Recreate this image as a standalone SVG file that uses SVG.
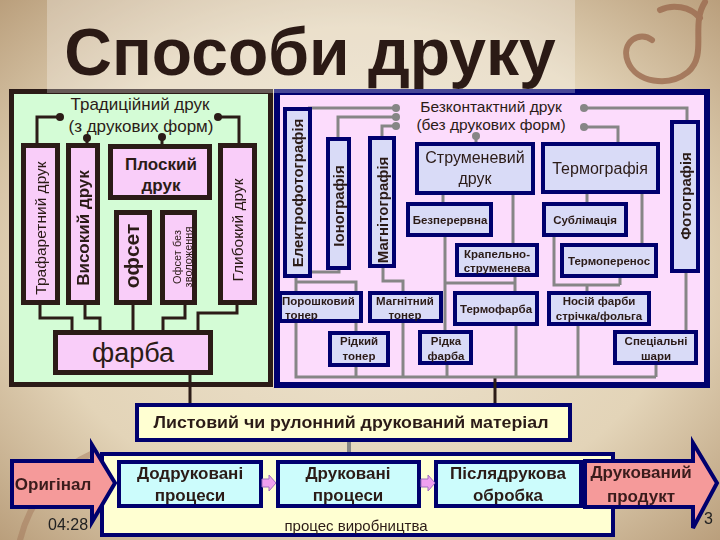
<svg xmlns="http://www.w3.org/2000/svg" width="720" height="540" viewBox="0 0 720 540">
<defs>
<radialGradient id="paper" cx="50%" cy="50%" r="75%">
<stop offset="0" stop-color="#eee4d0"/>
<stop offset="0.6" stop-color="#e3d4b8"/>
<stop offset="1" stop-color="#b39672"/>
</radialGradient>
<style>
text{font-family:"Liberation Sans",Arial,sans-serif;fill:#2b1b17}
.dk{stroke:#2b1b17;stroke-width:3;fill:none}
.gr{stroke:#868686;stroke-width:3;fill:none}
.dotd{fill:#2b1b17}
.dotg{fill:#868686}
.lbox{fill:#f9cdf9;stroke:#2b1b17;stroke-width:5}
.rbox{fill:#d9dbf7;stroke:#00006e;stroke-width:4}
.bbox{fill:#ccfcfc;stroke:#00006e;stroke-width:4}
.big{fill:#f59a9a;stroke:#00006e;stroke-width:4}
.sm{fill:#f0a0f0;stroke:#a070c0;stroke-width:1}
.s11{font-size:11.5px;font-weight:bold;text-anchor:middle}
.b17{font-size:17px;font-weight:bold;text-anchor:middle}
.sw{fill:none;stroke:#9b6b4f;stroke-width:6;stroke-linecap:round}
</style>
</defs>
<rect width="720" height="540" fill="url(#paper)"/>
<g id="decor" opacity="0.8">
<path class="sw" d="M705,2 C690,25 708,55 688,72 C668,88 636,82 628,62 C620,42 640,30 652,40"/>
<path class="sw" d="M660,10 C672,4 690,6 700,18"/>
<path class="sw" opacity="0.5" d="M20,540 C30,500 55,470 95,452"/>
</g>

<g id="left-panel">
<rect x="11.5" y="91.5" width="259" height="293" fill="#d4fcd6" stroke="#2b1b17" stroke-width="5"/>
<text x="140" y="110" font-size="17" text-anchor="middle">Традиційний друк</text>
<text x="141" y="132" font-size="17" text-anchor="middle">(з друкових форм)</text>
</g>
<g id="right-panel">
<rect x="277" y="92" width="430" height="293" fill="#fcdcfc" stroke="#00006e" stroke-width="6"/>
<text x="491" y="112" font-size="15.5" text-anchor="middle">Безконтактний друк</text>
<text x="491" y="130" font-size="15.5" text-anchor="middle">(без друкових форм)</text>
</g>

<g id="connectors">
<path class="dk" d="M60,117 H37 V145 M87,138 V145 M162,137 V146 M218,117 H239 V145"/>
<path class="dk" d="M40,303 V318 H72 V332 M85,303 V318 H100 V332 M133,303 V332 M185,303 V318 H163 V332 M237,303 V313 H198 V332"/>
<path class="dk" d="M190,373 V405 M495,377 V405"/>
<circle class="dotd" cx="60" cy="117" r="4"/>
<circle class="dotd" cx="87" cy="138" r="4"/>
<circle class="dotd" cx="162" cy="137" r="4"/>
<circle class="dotd" cx="218" cy="117" r="4"/>
<path class="gr" d="M396,108 H308 M396,117 H338 V139 M396,126 H382 V138 M476,136 V144 M584,108 H687 V122 M584,127 H618 V144"/>
<path class="gr" d="M443,193 V204 M513,193 V245 M587,192 V204 M642,192 V245"/>
<path class="gr" d="M445,235 V332 M515,275 V293 M445,283 H515 M554,235 V285 H620 M620,276 V285 M587,285 V293"/>
<path class="gr" d="M339,268 V272 H310 M296,276 V293 M296,282 H356 V293 M383,266 V281 H403 V293 M686,271 V332"/>
<path class="gr" d="M296,321 V377 H656 M356,321 V333 M356,365 V377 M403,321 V377 M447,363 V377 M516,324 V377 M578,324 V377 M656,363 V377"/>
<circle class="dotg" cx="396" cy="108" r="4"/>
<circle class="dotg" cx="396" cy="117" r="4"/>
<circle class="dotg" cx="396" cy="126" r="4"/>
<circle class="dotg" cx="476" cy="136" r="4"/>
<circle class="dotg" cx="584" cy="108" r="4"/>
<circle class="dotg" cx="584" cy="127" r="4"/>
<path d="M349,441 V461" stroke="#868686" stroke-width="4" fill="none"/>
</g>

<g id="n-trafaret"><rect class="lbox" x="23.5" y="145.5" width="34" height="157"/>
<text transform="translate(45.5,228) rotate(-90)" font-size="15.5" text-anchor="middle">Трафаретний друк</text></g>
<g id="n-vysokyi"><rect class="lbox" x="68.5" y="145.5" width="29" height="157"/>
<text transform="translate(89,228) rotate(-90)" font-size="17" font-weight="bold" text-anchor="middle">Високий друк</text></g>
<g id="n-ploskyi"><rect class="lbox" x="110.5" y="146.5" width="99" height="51"/>
<text x="161" y="170" class="b17">Плоский</text><text x="161" y="191" class="b17">друк</text></g>
<g id="n-ofset"><rect class="lbox" x="116.5" y="212.5" width="33" height="90"/>
<text transform="translate(139,256) rotate(-90)" font-size="21" font-weight="bold" text-anchor="middle">офсет</text></g>
<g id="n-ofset-bez"><rect class="lbox" x="162.5" y="212.5" width="32" height="90"/>
<text transform="translate(180.5,257) rotate(-90)" font-size="11" text-anchor="middle">Офсет без</text>
<text transform="translate(192,257) rotate(-90)" font-size="11" text-anchor="middle">зволоження</text></g>
<g id="n-hlybokyi"><rect class="lbox" x="220.5" y="145.5" width="34" height="157"/>
<text transform="translate(243,230) rotate(-90)" font-size="15.5" text-anchor="middle">Глибокий друк</text></g>
<g id="n-farba"><rect class="lbox" x="55.5" y="332.5" width="155" height="40"/>
<text x="133" y="362" font-size="27" text-anchor="middle">фарба</text></g>

<g id="n-elektro"><rect class="rbox" x="285" y="109" width="25" height="167"/>
<text transform="translate(303,193) rotate(-90)" font-size="15" font-weight="bold" text-anchor="middle">Електрофотографія</text></g>
<g id="n-iono"><rect class="rbox" x="328" y="139" width="21" height="129"/>
<text transform="translate(344,206) rotate(-90)" font-size="15" font-weight="bold" text-anchor="middle">Іонографія</text></g>
<g id="n-magnito"><rect class="rbox" x="370" y="138" width="24" height="128"/>
<text transform="translate(387.5,210) rotate(-90)" font-size="15" font-weight="bold" text-anchor="middle">Магнітографія</text></g>
<g id="n-strumenevyi"><rect class="rbox" x="417" y="144" width="116" height="49"/>
<text x="475" y="163" font-size="16" text-anchor="middle">Струменевий</text><text x="475" y="184" font-size="16" text-anchor="middle">друк</text></g>
<g id="n-termografia"><rect class="rbox" x="543" y="144" width="115" height="48"/>
<text x="600" y="174" font-size="16" text-anchor="middle">Термографія</text></g>
<g id="n-foto"><rect class="rbox" x="672" y="122" width="26" height="149"/>
<text transform="translate(690.5,196) rotate(-90)" font-size="15" font-weight="bold" text-anchor="middle">Фотографія</text></g>
<g id="n-bezperervna"><rect class="rbox" x="408" y="204" width="83" height="31"/>
<text x="450" y="224" class="s11">Безперервна</text></g>
<g id="n-sublimatsia"><rect class="rbox" x="544" y="204" width="82" height="31"/>
<text x="585" y="224" class="s11">Сублімація</text></g>
<g id="n-krapelno"><rect class="rbox" x="457" y="245" width="80" height="30"/>
<text x="497" y="258" class="s11">Крапельно-</text><text x="497" y="272" class="s11">струменева</text></g>
<g id="n-termoperenos"><rect class="rbox" x="562" y="245" width="94" height="31"/>
<text x="609" y="265" class="s11">Термоперенос</text></g>
<g id="n-poroshkovyi"><rect class="rbox" x="280" y="293" width="81" height="28"/>
<text x="282" y="305" font-size="11.5" font-weight="bold">Порошковий</text><text x="285" y="319" font-size="11.5" font-weight="bold">тонер</text></g>
<g id="n-magnitnyi"><rect class="rbox" x="370" y="293" width="71" height="28"/>
<text x="405" y="305" class="s11">Магнітний</text><text x="405" y="319" class="s11">тонер</text></g>
<g id="n-termofarba"><rect class="rbox" x="455" y="293" width="82" height="31"/>
<text x="496" y="313" class="s11">Термофарба</text></g>
<g id="n-nosii"><rect class="rbox" x="549" y="293" width="100" height="31"/>
<text x="599" y="305" class="s11">Носій фарби</text><text x="599" y="320" class="s11">стрічка/фольга</text></g>
<g id="n-ridkyi"><rect class="rbox" x="330" y="333" width="58" height="32"/>
<text x="359" y="345" class="s11">Рідкий</text><text x="359" y="360" class="s11">тонер</text></g>
<g id="n-ridka"><rect class="rbox" x="420" y="332" width="51" height="31"/>
<text x="446" y="345" class="s11">Рідка</text><text x="446" y="360" class="s11">фарба</text></g>
<g id="n-spetsialni"><rect class="rbox" x="615" y="332" width="81" height="31"/>
<text x="656" y="345" class="s11">Спеціальні</text><text x="656" y="360" class="s11">шари</text></g>

<rect x="47" y="0" width="528" height="93" fill="#ffffff" opacity="0.28"/>
<text x="310" y="75" text-anchor="middle" font-size="66" font-weight="bold" style="fill:#2b1a15">Способи друку</text>

<g id="n-lystovyi"><rect x="137" y="405" width="433" height="35" fill="#ffffd2" stroke="#00006e" stroke-width="4"/>
<text x="351" y="428" font-size="16.5" font-weight="bold" text-anchor="middle" textLength="395" lengthAdjust="spacingAndGlyphs">Листовий чи рулонний друкований матеріал</text></g>

<g id="n-protses"><rect x="102" y="454" width="511" height="81" fill="#ffffd2" stroke="#00006e" stroke-width="4"/>
<text x="356" y="531" font-size="15" text-anchor="middle">процес виробництва</text></g>
<g id="n-oryhinal"><polygon class="big" points="12,461 92,461 92,445 115,483 92,522 92,507 12,507"/>
<text x="53" y="490" class="b17" style="fill:#3a1c1c">Оригінал</text></g>
<g id="n-dodrukovani"><rect class="bbox" x="119" y="462" width="142" height="44"/>
<text x="190" y="479" class="b17">Додруковані</text><text x="190" y="501" class="b17">процеси</text></g>
<g id="n-drukovani"><rect class="bbox" x="278" y="462" width="141" height="44"/>
<text x="348" y="479" class="b17">Друковані</text><text x="348" y="501" class="b17">процеси</text></g>
<g id="n-pisliadrukova"><rect class="bbox" x="436" y="462" width="145" height="44"/>
<text x="508" y="479" class="b17">Післядрукова</text><text x="508" y="501" class="b17">обробка</text></g>
<g id="n-produkt"><polygon class="big" points="585,461 693,461 693,443 717,483 693,528 693,507 585,507"/>
<text x="641" y="478" class="b17" style="fill:#3a1c1c">Друкований</text><text x="641" y="502" class="b17" style="fill:#3a1c1c">продукт</text></g>
<g id="flow-arrows">
<polygon class="sm" points="262,479 269,479 269,475 276,483 269,491 269,487 262,487"/>
<polygon class="sm" points="421,479 428,479 428,475 435,483 428,491 428,487 421,487"/>
</g>
<text x="48" y="530" font-size="16" style="fill:#222">04:28</text>
<text x="704" y="524" font-size="16" style="fill:#222">3</text>
</svg>
